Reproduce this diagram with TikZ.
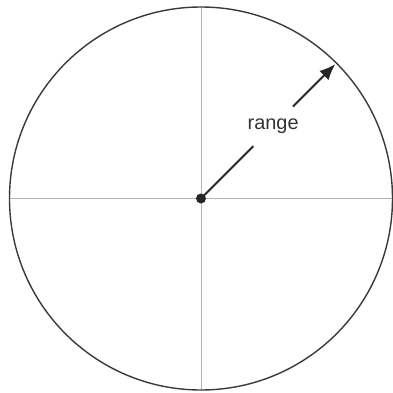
\documentclass[tikz,border=0pt]{standalone}
\usepackage{fontspec}
\setmainfont{Liberation Sans}
\usepackage{tikz}
\usetikzlibrary{arrows.meta}

\definecolor{rimgray}{HTML}{3A3A3A}
\definecolor{axisgray}{HTML}{B4B4B4}
\tikzset{
    rim/.style={draw=rimgray, line width=1.4bp},
    axisline/.style={draw=axisgray, line width=0.8bp},
    rangearrow/.style={draw=black!85, line width=1.9bp},
}

\begin{document}
\begin{tikzpicture}[x=1bp, y=1bp]
                \useasboundingbox (-201,-194.5) rectangle (192,198.5);
                % axes through the centre
                \coordinate (W) at (180:191.5);
                \coordinate (E) at (0:191.5);
                \coordinate (N) at (90:191.5);
                \coordinate (S) at (270:191.5);
                \draw[axisline] (W) -- (E);
                \draw[axisline] (N) -- (S);
                \draw[rim] (0,0) circle (191.5);
                \node[circle, fill=black!85, inner sep=0pt, minimum size=10bp] (ctr) at (0,0) {};
                \coordinate (edge) at (45:190);
                \node[circle, inner sep=1bp, text=black!80, font=\fontsize{20}{23}\selectfont] (lbl) at (45:102) {range};
                \draw[rangearrow] (ctr.center) -- (lbl);
                \draw[rangearrow, -{Latex[length=16bp, width=13bp]}] (lbl) -- (edge);
            \end{tikzpicture}
\end{document}
